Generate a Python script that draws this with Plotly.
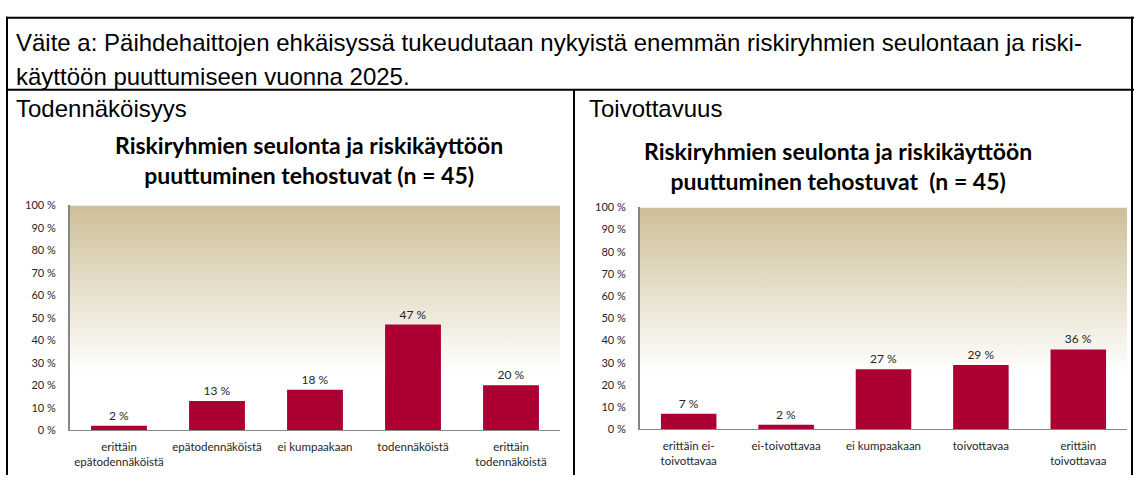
import plotly.graph_objects as go

# ---- data ----
cats_left = ["erittäin<br>epätodennäköistä", "epätodennäköistä", "ei kumpaakaan",
             "todennäköistä", "erittäin<br>todennäköistä"]
vals_left = [2, 13, 18, 47, 20]

cats_right = ["erittäin ei-<br>toivottavaa", "ei-toivottavaa", "ei kumpaakaan",
              "toivottavaa", "erittäin<br>toivottavaa"]
vals_right = [7, 2, 27, 29, 36]

y_ticks = [0, 10, 20, 30, 40, 50, 60, 70, 80, 90, 100]
y_ticklabels = [f"{v} %" for v in y_ticks]

header_lines = ["Väite a: Päihdehaittojen ehkäisyssä tukeudutaan nykyistä enemmän riskiryhmien seulontaan ja riski-",
                "käyttöön puuttumiseen vuonna 2025."]
left_heading = "Todennäköisyys"
right_heading = "Toivottavuus"
left_title = ["Riskiryhmien seulonta ja riskikäyttöön", "puuttuminen tehostuvat (n = 45)"]
right_title = ["Riskiryhmien seulonta ja riskikäyttöön", "puuttuminen tehostuvat  (n = 45)"]

# ---- layout constants ----
W, H = 1134, 481
BAR_COLOR = "#AC0033"
TEXT_COLOR = "#262626"
CHART_FONT = "Lato"
HEAD_FONT = "Liberation Sans"


def px_x(x):
    return x / W


def px_y(y):
    return 1 - y / H


LEFT_DOM_X = [px_x(70), px_x(560)]
LEFT_DOM_Y = [px_y(435), px_y(204)]
RIGHT_DOM_X = [px_x(640), px_x(1127)]
RIGHT_DOM_Y = [px_y(434), px_y(206)]

fig = go.Figure()

gradient = dict(type="vertical", start=0, stop=100,
                colorscale=[[0, "#FFFFFF"], [0.27, "#FFFFFF"], [1, "#CDBF98"]])

panels = [
    (cats_left, vals_left, "x", "x3", "y"),
    (cats_right, vals_right, "x2", "x4", "y2"),
]
for cats, vals, base_x, bar_x, ya in panels:
    # plot-area background gradient (on a hidden linear base axis)
    fig.add_trace(go.Scatter(
        x=[0, 0, 1, 1], y=[0, 100, 100, 0],
        xaxis=base_x, yaxis=ya, mode="none", fill="toself",
        fillgradient=gradient, hoverinfo="skip", showlegend=False,
    ))
    fig.add_trace(go.Bar(
        x=cats, y=vals, xaxis=bar_x, yaxis=ya,
        marker=dict(color=BAR_COLOR, line=dict(width=0)),
        width=0.57,
        text=[f"{v} %" for v in vals], textposition="outside",
        textfont=dict(family=CHART_FONT, size=12, color=TEXT_COLOR),
        cliponaxis=False, showlegend=False, hoverinfo="skip",
    ))

base_x_common = dict(range=[0, 1], visible=False, fixedrange=True)
cat_x_common = dict(
    type="category", range=[-0.5, 4.5], showgrid=False, zeroline=False,
    showline=True, linecolor="#868686", linewidth=1,
    ticks="outside", ticklen=6, tickcolor="rgba(0,0,0,0)",
    tickfont=dict(family=CHART_FONT, size=11.5, color=TEXT_COLOR), fixedrange=True,
)
y_common = dict(
    range=[0, 100], showgrid=False, zeroline=False, showline=True,
    linecolor="#868686", linewidth=2, tickmode="array", tickvals=y_ticks,
    ticktext=y_ticklabels, ticks="outside", ticklen=10, tickcolor="rgba(0,0,0,0)",
    tickfont=dict(family=CHART_FONT, size=11, color=TEXT_COLOR), fixedrange=True,
)

fig.update_layout(
    width=W, height=H, margin=dict(l=0, r=0, t=0, b=0),
    paper_bgcolor="white", plot_bgcolor="rgba(0,0,0,0)",
    xaxis=dict(base_x_common, domain=LEFT_DOM_X, anchor="y"),
    xaxis2=dict(base_x_common, domain=RIGHT_DOM_X, anchor="y2"),
    xaxis3=dict(cat_x_common, domain=LEFT_DOM_X, anchor="y", overlaying="x"),
    xaxis4=dict(cat_x_common, domain=RIGHT_DOM_X, anchor="y2", overlaying="x2"),
    yaxis=dict(y_common, domain=LEFT_DOM_Y, anchor="x"),
    yaxis2=dict(y_common, domain=RIGHT_DOM_Y, anchor="x2"),
)

# table borders
line = dict(color="black", width=2)
shapes = [
    dict(type="line", x0=px_x(6), x1=px_x(1134), y0=px_y(11), y1=px_y(11), line=line),
    dict(type="line", x0=px_x(6), x1=px_x(1134), y0=px_y(85), y1=px_y(85), line=line),
    dict(type="line", x0=px_x(7), x1=px_x(7), y0=px_y(10), y1=0, line=line),
    dict(type="line", x0=px_x(574), x1=px_x(574), y0=px_y(85), y1=0, line=line),
    dict(type="line", x0=px_x(1132), x1=px_x(1132), y0=px_y(10), y1=0, line=line),
]
for s in shapes:
    s.update(xref="paper", yref="paper")
fig.update_layout(shapes=shapes)


def bold_lines(lines):
    return "<br>".join(f"<b>{t}</b>" for t in lines)


annotations = [
    dict(text=header_lines[0], x=px_x(14), y=px_y(37), xanchor="left", yanchor="middle",
         font=dict(family=HEAD_FONT, size=24, color="black")),
    dict(text=header_lines[1], x=px_x(14), y=px_y(71), xanchor="left", yanchor="middle",
         font=dict(family=HEAD_FONT, size=24, color="black")),
    dict(text=left_heading, x=px_x(14), y=px_y(104), xanchor="left", yanchor="middle",
         font=dict(family=HEAD_FONT, size=24, color="black")),
    dict(text=right_heading, x=px_x(587), y=px_y(104), xanchor="left", yanchor="middle",
         font=dict(family=HEAD_FONT, size=24, color="black")),
    dict(text=bold_lines(left_title), x=px_x(309), y=px_y(157),
         xanchor="center", yanchor="middle", align="center",
         font=dict(family=CHART_FONT, size=23, color="black")),
    dict(text=bold_lines(right_title), x=px_x(838), y=px_y(163),
         xanchor="center", yanchor="middle", align="center",
         font=dict(family=CHART_FONT, size=23, color="black")),
]
for a in annotations:
    a.update(xref="paper", yref="paper", showarrow=False)
fig.update_layout(annotations=annotations)

fig.write_html("out.html", config={"displayModeBar": False},
               post_script="document.body.style.margin='0';")
